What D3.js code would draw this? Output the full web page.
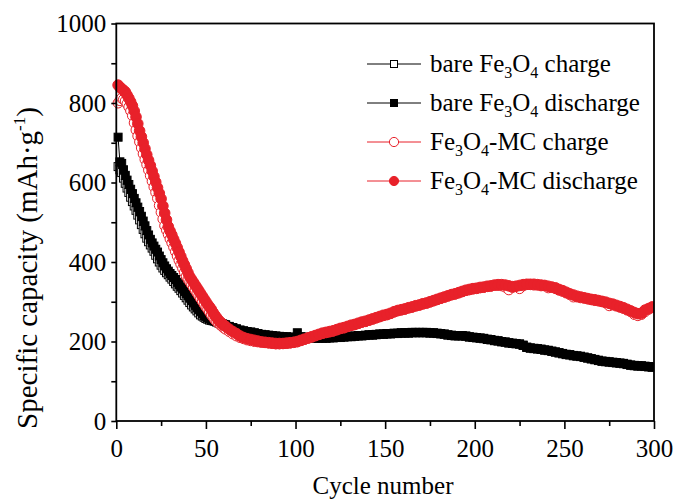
<!DOCTYPE html>
<html>
<head>
<meta charset="utf-8">
<script src="https://cdn.jsdelivr.net/npm/d3@7/dist/d3.min.js"></script>
<style>
  html, body { margin: 0; padding: 0; background: #fff; }
  svg { display: block; font-family: "Liberation Serif", "Times New Roman", serif; }
</style>
</head>
<body>
<svg id="chart" width="674" height="502"></svg>
<script>
// ---- data: cycles 1..60 every cycle, then 61,63,...,299 ----
const cycles = d3.range(1, 61).concat(d3.range(61, 300, 2));

const mcDischarge = [
  845,840,836,832,828,820,812,803,793,780,
  765,748,730,715,700,685,670,656,643,629,
  615,601,587,573,559,541,523,506,489,478,
  468,457,447,436,425,414,403,393,383,373,
  363,356,349,342,335,328,321,314,307,300,
  293,287,281,273,266,260,254,249,245,241,
  238,231,225,220,214,210,207,205,203,201,
  199,198,197,196,195,195,195,196,197,198,
  200,203,206,209,212,215,218,221,223,225,
  227,230,233,235,238,241,243,246,249,251,
  254,257,260,263,266,268,271,275,278,280,
  282,285,287,290,292,295,297,300,303,306,
  309,312,315,318,320,323,326,329,331,333,
  334,336,337,339,340,342,343,343,342,340,
  338,339,341,343,344,344,344,343,342,341,
  339,337,335,331,328,324,320,317,314,312,
  310,308,306,305,303,301,299,296,294,291,
  288,285,281,277,273,270,271,279,283,287
];
const mcCharge = [
  800,806,812,809,805,798,790,780,768,750,
  732,717,702,687,672,658,645,631,617,603,
  589,575,560,542,525,508,491,480,469,458,
  448,437,426,415,404,394,384,374,364,357,
  350,343,336,329,322,315,308,301,294,287,
  281,274,267,261,255,250,246,242,238,234,
  231,225,219,214,210,207,204,202,200,199,
  198,197,196,195,194,194,195,195,196,198,
  199,202,205,208,211,214,217,220,222,224,
  226,229,232,234,237,240,242,245,248,250,
  253,256,259,262,265,267,270,274,277,279,
  281,284,286,289,291,294,296,299,302,305,
  308,311,314,317,319,322,325,328,330,332,
  333,335,336,338,339,341,341,340,337,330,
  336,338,333,340,343,343,342,342,340,340,
  335,336,333,329,326,322,318,312,312,310,
  309,307,305,303,302,300,297,290,292,289,
  286,283,279,275,268,265,268,275,281,285
];
const bareDischarge = [
  714,652,648,632,618,606,595,583,572,560,
  549,538,527,515,503,491,479,468,457,448,
  440,432,425,415,406,398,390,383,377,371,
  366,361,356,349,343,337,332,326,321,315,
  309,303,297,291,285,280,275,270,265,262,
  259,257,255,253,252,250,248,246,245,243,
  242,238,235,232,229,227,225,224,222,220,
  218,217,216,215,214,213,212,212,211,211,
  222,212,211,210,210,209,209,209,209,210,
  210,211,211,212,213,213,214,215,215,216,
  217,217,218,219,219,220,220,221,221,222,
  222,222,223,223,223,223,223,222,222,221,
  220,219,217,216,215,215,215,214,212,211,
  210,209,208,206,205,203,202,200,199,197,
  196,195,194,191,186,184,183,182,181,179,
  178,176,174,172,170,168,167,165,164,163,
  161,159,157,155,153,151,150,149,148,147,
  146,145,143,141,140,139,139,138,137,136
];
const bareCharge = [
  640,632,625,611,598,586,575,563,552,541,
  530,518,506,494,482,471,460,451,443,435,
  427,417,408,400,392,385,379,373,368,362,
  357,351,345,339,334,328,322,316,310,304,
  298,292,287,282,277,272,267,264,261,258,
  256,254,253,252,251,249,247,246,244,242,
  241,237,234,231,228,226,224,223,221,219,
  217,216,215,214,213,212,211,211,210,210,
  211,211,210,209,209,208,208,208,208,209,
  209,210,210,211,212,212,213,214,214,215,
  216,216,217,218,218,219,219,220,220,221,
  221,221,222,222,222,222,222,221,221,220,
  219,218,216,215,214,214,214,213,211,210,
  209,208,207,205,204,202,201,199,198,196,
  195,194,193,190,185,183,182,181,180,178,
  177,175,173,171,169,167,166,164,163,162,
  160,158,156,154,152,150,149,148,147,146,
  145,144,142,140,139,138,138,137,136,135
];

const xTicks = [0, 50, 100, 150, 200, 250, 300];
const yTicks = [0, 200, 400, 600, 800, 1000];
const xMinor = [25, 75, 125, 175, 225, 275];
const yMinor = [100, 300, 500, 700, 900];

const RED = "#e8212a";

const series = [
  { name: ["bare Fe", "3", "O", "4", " charge"], values: bareCharge, color: "#000", shape: "square", filled: false },
  { name: ["bare Fe", "3", "O", "4", " discharge"], values: bareDischarge, color: "#000", shape: "square", filled: true },
  { name: ["Fe", "3", "O", "4", "-MC charge"], values: mcCharge, color: RED, shape: "circle", filled: false },
  { name: ["Fe", "3", "O", "4", "-MC discharge"], values: mcDischarge, color: RED, shape: "circle", filled: true }
];

// ---- layout ----
const L = 116.3, R = 654, T = 23.5, B = 421;
const svg = d3.select("#chart");
const x = d3.scaleLinear().domain([0, 300]).range([L, R]);
const y = d3.scaleLinear().domain([0, 1000]).range([B, T]);

const clipId = "clip";
svg.append("defs").append("clipPath").attr("id", clipId)
  .append("rect").attr("x", L - 6).attr("y", T).attr("width", R - L + 6).attr("height", B - T);

const dataG = svg.append("g").attr("clip-path", `url(#${clipId})`);

function drawMarker(g, s, cx, cy, legend) {
  if (s.shape === "square") {
    const h = legend ? 3.5 : 4;
    g.append("rect").attr("x", cx - h).attr("y", cy - h).attr("width", 2 * h).attr("height", 2 * h)
      .attr("fill", s.filled ? s.color : "#fff").attr("stroke", s.color).attr("stroke-width", 1);
  } else {
    const r = legend ? 4.6 : (s.filled ? 5.3 : 5);
    g.append("circle").attr("cx", cx).attr("cy", cy).attr("r", r)
      .attr("fill", s.filled ? s.color : "#fff").attr("stroke", s.color).attr("stroke-width", 1);
  }
}

series.forEach(s => {
  const pts = cycles.map((c, i) => [c, s.values[i]]);
  const g = dataG.append("g");
  g.append("path").datum(pts)
    .attr("fill", "none").attr("stroke", s.color).attr("stroke-width", 1)
    .attr("d", d3.line().x(d => x(d[0])).y(d => y(d[1])));
  pts.forEach(d => drawMarker(g, s, x(d[0]), y(d[1]), false));
});

// ---- axes ----
const fontSize = 25;
const xAxis = svg.append("g").attr("transform", `translate(0,${B})`)
  .call(d3.axisBottom(x).tickValues(xTicks).tickSize(8).tickSizeOuter(0).tickPadding(10).tickFormat(d3.format("d")));
const xAxisMinor = svg.append("g").attr("transform", `translate(0,${B})`)
  .call(d3.axisBottom(x).tickValues(xMinor).tickSize(5).tickSizeOuter(0).tickFormat(""));
const yAxis = svg.append("g").attr("transform", `translate(${L},0)`)
  .call(d3.axisLeft(y).tickValues(yTicks).tickSize(5).tickSizeOuter(0).tickPadding(5).tickFormat(d3.format("d")));
const yAxisMinor = svg.append("g").attr("transform", `translate(${L},0)`)
  .call(d3.axisLeft(y).tickValues(yMinor).tickSize(5).tickSizeOuter(0).tickFormat(""));

[xAxis, xAxisMinor, yAxis, yAxisMinor].forEach(a => {
  a.select(".domain").remove();
  a.selectAll("line").attr("stroke", "#000").attr("stroke-width", 1.6);
  a.selectAll("text").attr("font-family", "Liberation Serif").attr("font-size", fontSize).attr("fill", "#000");
});

// frame
svg.append("rect").attr("x", L).attr("y", T).attr("width", R - L).attr("height", B - T)
  .attr("fill", "none").attr("stroke", "#000").attr("stroke-width", 1.8);

// axis titles
svg.append("text").attr("x", 383).attr("y", 494)
  .attr("text-anchor", "middle").attr("font-size", 25).text("Cycle number");

const yl = svg.append("text").attr("transform", `translate(37,${268}) rotate(-90)`)
  .attr("text-anchor", "middle").attr("font-size", 29);
yl.append("tspan").text("Specific capacity (mAh\u00b7g");
yl.append("tspan").attr("font-size", 17).attr("dy", -12).text("-1");
yl.append("tspan").attr("dy", 12).text(")");

// ---- legend ----
const legRows = [64, 103, 142, 181];
series.forEach((s, i) => {
  const ly = legRows[i];
  const g = svg.append("g");
  g.append("line").attr("x1", 367).attr("x2", 421).attr("y1", ly).attr("y2", ly)
    .attr("stroke", s.color).attr("stroke-width", 1);
  drawMarker(g, s, 394, ly, true);
  const t = g.append("text").attr("x", 430).attr("y", ly + 8).attr("font-size", 25);
  t.append("tspan").text(s.name[0]);
  t.append("tspan").attr("font-size", 16).attr("dy", 6).text(s.name[1]);
  t.append("tspan").attr("dy", -6).text(s.name[2]);
  t.append("tspan").attr("font-size", 16).attr("dy", 6).text(s.name[3]);
  t.append("tspan").attr("dy", -6).text(s.name[4]);
});
</script>
</body>
</html>
